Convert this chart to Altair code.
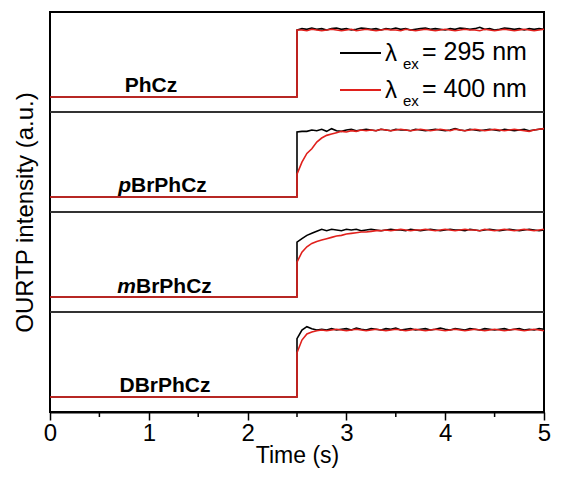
import altair as alt
import pandas as pd
import numpy as np

# ---------------- data (normalised intensity: 0 = dark level, 1 = plateau) ----------------
samples = ["PhCz", "pBrPhCz", "mBrPhCz", "DBrPhCz"]
step_time = 2.5
end_time = 5.0

# values sampled every 0.05 s from 2.50 s to 5.00 s (after the light is switched on)
ex295 = {
    "PhCz": [1.00, 1.02, 1.01, 1.03, 1.01, 1.02, 1.00, 1.02, 1.03, 1.01, 1.02, 1.00, 1.01, 1.03, 1.02, 1.01, 1.02,
             1.00, 1.02, 1.01, 1.03, 1.01, 1.02, 1.00, 1.01, 1.02, 1.03, 1.01, 1.02, 1.01, 1.00, 1.02, 1.01, 1.03,
             1.02, 1.01, 1.02, 1.04, 1.01, 1.02, 1.00, 1.01, 1.03, 1.02, 1.01, 1.02, 1.00, 1.02, 1.01, 1.02, 1.01],
    "pBrPhCz": [0.97, 0.98, 0.98, 1.00, 0.99, 1.01, 0.98, 1.02, 0.99, 0.98, 1.00, 1.01, 0.99, 1.00, 1.01, 1.00, 0.99,
                1.01, 1.00, 0.99, 1.01, 1.00, 1.00, 0.99, 1.01, 1.00, 0.99, 1.00, 1.01, 1.00, 0.99, 1.00, 1.02, 1.00,
                0.99, 1.01, 1.00, 0.99, 1.00, 1.01, 1.00, 0.99, 1.01, 1.00, 0.99, 1.00, 1.01, 0.99, 1.00, 1.01, 1.02],
    "mBrPhCz": [0.82, 0.87, 0.92, 0.95, 0.98, 1.01, 0.99, 1.01, 1.00, 0.99, 1.01, 1.00, 1.01, 0.99, 1.00, 1.01, 1.00,
                0.99, 1.00, 1.01, 1.00, 1.00, 0.99, 1.01, 1.00, 0.99, 1.00, 1.01, 1.00, 0.99, 1.00, 1.01, 1.00, 1.00,
                0.99, 1.01, 1.00, 0.99, 1.00, 1.01, 1.00, 0.99, 1.00, 1.01, 1.00, 0.99, 1.00, 1.01, 1.00, 0.99, 1.00],
    "DBrPhCz": [0.87, 1.00, 1.05, 1.02, 1.00, 1.01, 1.00, 1.02, 1.00, 1.01, 1.02, 1.00, 1.03, 1.01, 1.00, 1.02, 1.01,
                1.00, 1.02, 1.01, 1.03, 1.00, 1.01, 1.02, 1.00, 1.01, 1.02, 1.00, 1.01, 1.03, 1.01, 1.00, 1.02, 1.01,
                1.00, 1.02, 1.01, 1.00, 1.02, 1.01, 1.00, 1.01, 1.02, 1.00, 1.01, 1.02, 1.00, 1.01, 1.00, 1.02, 1.01],
}
ex400 = {
    "PhCz": [1.00, 1.00, 0.99, 1.01, 1.00, 0.99, 1.00, 1.01, 1.00, 0.99, 1.00, 1.01, 0.99, 1.00, 1.01, 1.00, 0.99,
             1.00, 1.01, 1.00, 1.00, 0.99, 1.01, 1.00, 0.99, 1.00, 1.01, 1.00, 0.99, 1.00, 1.01, 1.00, 0.99, 1.00,
             1.01, 1.00, 1.00, 0.99, 1.01, 1.00, 0.99, 1.00, 1.01, 1.00, 0.99, 1.00, 1.01, 1.00, 0.99, 1.00, 1.01],
    "pBrPhCz": [0.34, 0.52, 0.65, 0.72, 0.82, 0.88, 0.92, 0.94, 0.96, 0.98, 0.97, 0.99, 0.98, 1.00, 0.99, 1.00, 0.99,
                1.01, 1.00, 0.99, 1.00, 1.01, 1.00, 0.99, 1.00, 1.01, 1.00, 0.99, 1.00, 1.01, 1.00, 0.99, 1.01, 1.00,
                0.99, 1.00, 1.01, 1.00, 0.99, 1.00, 1.01, 1.00, 0.99, 1.00, 1.01, 1.00, 0.99, 0.98, 1.00, 1.01, 1.02],
    "mBrPhCz": [0.52, 0.67, 0.75, 0.80, 0.83, 0.85, 0.87, 0.89, 0.91, 0.92, 0.94, 0.95, 0.96, 0.97, 0.97, 0.98, 0.99,
                0.99, 1.00, 0.99, 1.00, 1.01, 1.00, 0.99, 1.00, 1.00, 1.01, 1.00, 0.99, 1.00, 1.01, 1.00, 0.99, 1.00,
                1.01, 1.00, 1.00, 0.99, 1.01, 1.00, 0.99, 1.00, 1.01, 1.00, 0.99, 1.00, 1.01, 1.00, 0.99, 1.00, 1.01],
    "DBrPhCz": [0.66, 0.85, 0.94, 0.97, 0.99, 1.00, 0.99, 1.00, 1.01, 1.00, 0.99, 1.00, 1.01, 1.00, 0.99, 1.00, 1.01,
                1.00, 0.99, 1.00, 1.01, 1.00, 0.99, 1.00, 1.01, 1.00, 0.99, 1.00, 1.01, 1.00, 0.99, 1.00, 1.01, 1.00,
                0.99, 1.00, 1.01, 1.00, 0.99, 1.00, 1.01, 1.00, 0.99, 1.00, 1.01, 1.00, 0.99, 1.00, 1.01, 1.00, 0.99],
}
major_ticks = [0, 1, 2, 3, 4, 5]
minor_ticks = [0.5, 1.5, 2.5, 3.5, 4.5]
panel_edges = [1, 2, 3]

# ---------------- build table: stack the four panels on one shared y scale ----------------
base, amp = 0.15, 0.67
rows = []
for i, s in enumerate(samples):
    for wl, src in (("295", ex295), ("400", ex400)):
        vals = src[s]
        ts = np.linspace(step_time, end_time, len(vals))
        seq = [(0.0, 0.0), (step_time, 0.0)] + list(zip(ts, vals))
        for k, (t, v) in enumerate(seq):
            rows.append(dict(sample=s, wl=wl, order=k, t=float(t), v=float(v),
                             y=(3 - i) + base + amp * float(v)))
df = pd.DataFrame(rows)

FONT = "Liberation Sans"
W, H = 494, 400

x_enc = alt.X("t:Q", scale=alt.Scale(domain=[0, 5], nice=False, zero=False),
              axis=alt.Axis(values=major_ticks, format="d", title="Time (s)", grid=False,
                            labelFontSize=24, titleFontSize=23, labelFont=FONT, titleFont=FONT,
                            titleFontWeight="normal", labelColor="black", titleColor="black",
                            labelFlush=False, labelOverlap=False,
                            tickSize=8, tickWidth=1.5, tickColor="black", domainColor="black",
                            domainWidth=2, labelPadding=1, titlePadding=-1))
y_enc = alt.Y("y:Q", scale=alt.Scale(domain=[0, 4], nice=False, zero=False),
              axis=alt.Axis(labels=False, ticks=False, domain=False, grid=False,
                            title="OURTP intensity (a.u.)", titleFontSize=24, titleFont=FONT,
                            titleFontWeight="normal", titleColor="black", titlePadding=13))

black = alt.Chart(df[df.wl == "295"]).mark_line(color="black", strokeWidth=1.6).encode(
    x=x_enc, y=y_enc, detail="sample:N", order="order:Q")
red = alt.Chart(df[df.wl == "400"]).mark_line(color="#e0201c", strokeWidth=1.6).encode(
    x="t:Q", y="y:Q", detail="sample:N", order="order:Q")

seps = alt.Chart(pd.DataFrame({"edge": panel_edges})).mark_rule(color="#333333", strokeWidth=2).encode(
    y="edge:Q")

minor = alt.Chart(pd.DataFrame({"m": minor_ticks})).mark_rule(color="black", strokeWidth=1.5).encode(
    x="m:Q", y=alt.value(H), y2=alt.value(H + 5))

one = pd.DataFrame({"a": [0]})

def txt(text, x, y, size, align="left", weight="normal", style="normal", color="black"):
    return alt.Chart(one).mark_text(text=text, align=align, baseline="alphabetic", fontSize=size,
                                    font=FONT, fontWeight=weight, fontStyle=style, color=color).encode(
        x=alt.value(x), y=alt.value(y))

labels = [
    txt("PhCz", 101, 80, 21, align="center", weight="bold"),
    txt("p", 81, 180, 21, align="right", weight="bold", style="italic"),
    txt("BrPhCz", 81, 180, 21, weight="bold"),
    txt("m", 86, 281, 21, align="right", weight="bold", style="italic"),
    txt("BrPhCz", 86, 281, 21, weight="bold"),
    txt("DBrPhCz", 115, 380, 21, align="center", weight="bold"),
]

legend = [
    alt.Chart(one).mark_rule(color="black", strokeWidth=2).encode(
        x=alt.value(290), x2=alt.value(331), y=alt.value(41)),
    alt.Chart(one).mark_rule(color="#e0201c", strokeWidth=2).encode(
        x=alt.value(290), x2=alt.value(331), y=alt.value(78)),
    txt("λ", 335, 49, 24), txt("ex", 353, 57, 15), txt("= 295 nm", 372, 48, 25),
    txt("λ", 335, 86, 24), txt("ex", 353, 94, 15), txt("= 400 nm", 372, 85, 25),
]

chart = alt.layer(black, red, seps, minor, *labels, *legend).properties(
    width=W, height=H,
    autosize=alt.AutoSizeParams(type="none"),
    padding={"left": 42, "top": 4, "right": 9, "bottom": 56},
).configure_view(stroke="black", strokeWidth=2)

chart.save("out.html", embed_options={"renderer": "svg", "actions": False})
